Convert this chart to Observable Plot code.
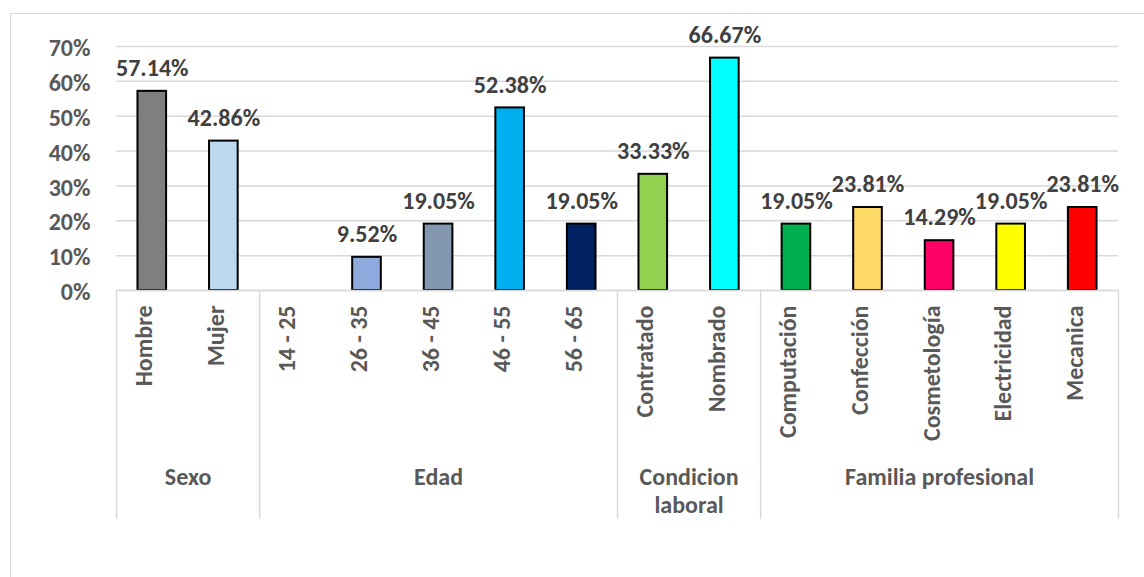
<!DOCTYPE html>
<html>
<head>
<meta charset="utf-8">
<script src="https://cdn.jsdelivr.net/npm/d3@7"></script>
<script src="https://cdn.jsdelivr.net/npm/@observablehq/plot@0.6"></script>
<style>
  html, body { margin: 0; padding: 0; background: #fff; }
  #wrap { position: relative; width: 1144px; height: 577px; overflow: hidden; }
  #border { position: absolute; left: 10px; top: 13px; right: -2px; bottom: -2px;
            border-top: 1.5px solid #d9d9d9; border-left: 1.5px solid #d9d9d9; }
  #chart { position: absolute; left: 0; top: 0; }
</style>
</head>
<body>
<div id="wrap"><div id="border"></div><div id="chart"></div></div>
<script>
const categories = ["Hombre", "Mujer", "14 - 25", "26 - 35", "36 - 45", "46 - 55", "56 - 65",
  "Contratado", "Nombrado", "Computación", "Confección", "Cosmetología", "Electricidad", "Mecanica"];
const values = [0.5714, 0.4286, null, 0.0952, 0.1905, 0.5238, 0.1905,
  0.3333, 0.6667, 0.1905, 0.2381, 0.1429, 0.1905, 0.2381];
const colors = ["#7f7f7f", "#bdd7ee", "#9dc3e6", "#8faadc", "#8497b0", "#00b0f0", "#002060",
  "#92d050", "#00ffff", "#00b050", "#ffd966", "#ff0066", "#ffff00", "#ff0000"];
const groups = ["Sexo", "Edad", "Condicion\nlaboral", "Familia profesional"];
const groupSizes = [2, 5, 2, 5];
const yTicks = [0, 0.1, 0.2, 0.3, 0.4, 0.5, 0.6, 0.7];

const data = categories.map((c, i) => ({i, category: c, value: values[i], color: colors[i]}));
const bars = data.filter(d => d.value != null);

// group boundaries and centers in category-index units
const bounds = [0];
groupSizes.forEach(s => bounds.push(bounds[bounds.length - 1] + s));
const groupData = groups.map((g, k) => ({name: g, center: (bounds[k] + bounds[k + 1]) / 2}));

const font = "Carlito, Calibri, Lato, 'Open Sans', sans-serif";
const axisGray = "#595959";
const gridGray = "#d9d9d9";
const fs = 24;
const pct = d3.format(".2%");

const chart = Plot.plot({
  width: 1144,
  height: 577,
  marginLeft: 116,
  marginRight: 26,
  marginTop: 46,
  marginBottom: 287,
  style: {fontFamily: font, fontSize: fs + "px", fontWeight: "bold", background: "transparent", overflow: "visible"},
  x: {type: "linear", domain: [0, categories.length], axis: null},
  y: {domain: [0, 0.7], axis: null},
  color: {type: "identity"},
  marks: [
    Plot.gridY(yTicks, {stroke: gridGray, strokeOpacity: 1, strokeWidth: 1.5}),
    Plot.axisY(yTicks, {tickSize: 0, tickPadding: 26, tickFormat: d3.format(".0%"), label: null,
      fill: axisGray, fontSize: fs, fontWeight: "bold", dy: 2}),
    Plot.rect(bars, {x1: d => d.i + 0.3, x2: d => d.i + 0.7, y1: 0, y2: "value",
      fill: "color", stroke: "#000", strokeWidth: 2}),
    Plot.ruleY([0], {stroke: gridGray, strokeWidth: 1.5}),
    Plot.axisX(bounds, {tickSize: 229, tickFormat: () => "", stroke: gridGray, strokeWidth: 1.5, strokeOpacity: 1, label: null}),
    Plot.text(data, {x: d => d.i + 0.5, frameAnchor: "bottom", dy: 15, rotate: -90, textAnchor: "end",
      text: "category", fill: axisGray, fontSize: fs, fontWeight: "bold"}),
    Plot.text(groupData, {x: "center", frameAnchor: "bottom", dy: 174, lineAnchor: "top", lineHeight: 1.18,
      text: "name", fill: axisGray, fontSize: fs, fontWeight: "bold"}),
    Plot.text(bars, {x: d => d.i + 0.5, y: "value", text: d => pct(d.value), dy: -23,
      fill: "#404040", fontSize: fs, fontWeight: "bold"})
  ]
});
document.getElementById("chart").appendChild(chart);
</script>
</body>
</html>
